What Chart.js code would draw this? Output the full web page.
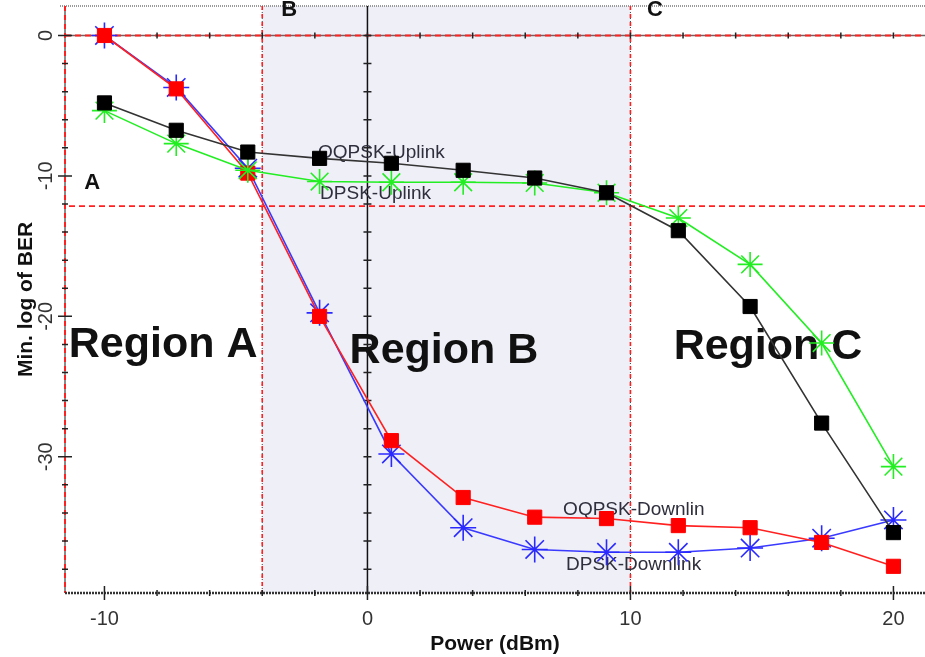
<!DOCTYPE html>
<html>
<head>
<meta charset="utf-8">
<script src="https://cdn.jsdelivr.net/npm/chart.js@4.4.1/dist/chart.umd.min.js"></script>
<style>
  html, body { margin: 0; padding: 0; background: #fff; }
  #wrap { width: 925px; height: 657px; }
</style>
</head>
<body>
<div id="wrap"><canvas id="berChart" width="925" height="657"></canvas></div>
<script>
// ── data ─────────────────────────────────────────────────────────
const power = [-10, -7.27, -4.55, -1.82, 0.91, 3.64, 6.36, 9.09, 11.82, 14.55, 17.27, 20];
const oqpskUplink   = [-4.8, -6.75, -8.3, -8.75, -9.1, -9.6, -10.15, -11.2, -13.9, -19.3, -27.6, -35.4];
const dpskUplink    = [-5.35, -7.7, -9.6, -10.4, -10.45, -10.45, -10.5, -11.2, -13.0, -16.3, -21.9, -30.7];
const oqpskDownlink = [0, -3.8, -9.8, -20.0, -28.85, -32.9, -34.3, -34.4, -34.9, -35.05, -36.1, -37.8];
const dpskDownlink  = [0, -3.7, -9.45, -19.75, -29.8, -35.05, -36.6, -36.8, -36.8, -36.5, -35.8, -34.5];

const regionB = [-4, 10];       // shaded band
const berLimit = -12.15;        // horizontal threshold line
const yTickLabels = [0, -10, -20, -30];
const xTickLabels = [-10, 0, 10, 20];

const RED = '#ff2020';
const FONT = "'Liberation Sans', Arial, sans-serif";

const pts = arr => power.map((x, i) => ({ x, y: arr[i] }));

function series(data, color, lineColor, style, radius) {
  return {
    data: pts(data),
    borderColor: lineColor,
    backgroundColor: color,
    pointBorderColor: color,
    pointBackgroundColor: color,
    pointStyle: style,
    pointRadius: radius,
    pointBorderWidth: style === 'star' ? 1.6 : 1,
    borderWidth: 1.6,
    tension: 0,
    fill: false,
  };
}

function line(ctx, x1, y1, x2, y2, color, width, dash) {
  ctx.save();
  ctx.strokeStyle = color;
  ctx.lineWidth = width;
  ctx.setLineDash(dash || []);
  ctx.beginPath();
  ctx.moveTo(x1, y1);
  ctx.lineTo(x2, y2);
  ctx.stroke();
  ctx.restore();
}

// no extra room for half-labels at the ends of the axes
function fixedBox(s, size) {
  if (s.isHorizontal()) s.height = size; else s.width = size;
  s.paddingTop = s.paddingBottom = s.paddingLeft = s.paddingRight = 0;
}

// ── regions, reference lines, ticks and annotations ──────────────
const decor = {
  id: 'decor',
  beforeDatasetsDraw(chart) {
    const { ctx, chartArea: a, scales: { x, y } } = chart;
    const bx1 = x.getPixelForValue(regionB[0]);
    const bx2 = x.getPixelForValue(regionB[1]);
    const y0 = y.getPixelForValue(0);
    const x0 = x.getPixelForValue(0);
    const yl = y.getPixelForValue(berLimit);

    ctx.save();
    ctx.fillStyle = '#efeff8';
    ctx.fillRect(bx1, a.top, bx2 - bx1, a.bottom - a.top);

    // top border
    line(ctx, a.left - 5, a.top, a.right, a.top, '#999', 2, [1, 1]);

    // left edge and y=0 line: grey with red dashes
    line(ctx, a.left, a.top, a.left, a.bottom, '#666', 1.5);
    line(ctx, a.left, a.top, a.left, a.bottom, RED, 2, [5, 4]);
    line(ctx, a.left, y0, a.right, y0, '#666', 1.5);
    line(ctx, a.left, y0, a.right, y0, RED, 2, [6, 4]);

    // region boundaries
    [bx1, bx2].forEach(px => {
      line(ctx, px, a.top, px, a.bottom, '#444', 1, [1, 2]);
      line(ctx, px, a.top, px, a.bottom, RED, 1.6, [4, 4]);
    });
    line(ctx, a.left + 4, yl, a.right, yl, RED, 1.6, [6, 4]);

    // x=0 axis
    line(ctx, x0, a.top, x0, a.bottom, '#111', 1.5);

    // bottom axis
    line(ctx, a.left, a.bottom, a.right, a.bottom, '#333', 2.5, [2, 1]);

    // ticks every 2 units
    ctx.strokeStyle = '#222';
    ctx.lineWidth = 1.5;
    for (let v = -10; v <= 20; v += 2) {
      const px = x.getPixelForValue(v);
      const major = v % 10 === 0;
      ctx.beginPath();
      ctx.moveTo(px, a.bottom - (major ? 7 : 3));
      ctx.lineTo(px, a.bottom + (major ? 7 : 3));
      ctx.moveTo(px, y0 - 3);
      ctx.lineTo(px, y0 + 3);
      ctx.stroke();
    }
    for (let v = 0; v >= -38; v -= 2) {
      const py = y.getPixelForValue(v);
      const major = v % 10 === 0;
      ctx.beginPath();
      ctx.moveTo(a.left - (major ? 7 : 3), py);
      ctx.lineTo(a.left + (major ? 7 : 3), py);
      ctx.moveTo(x0 - 4, py);
      ctx.lineTo(x0 + 4, py);
      ctx.stroke();
    }

    // annotations
    const txt = (s, vx, vy, font, align) => {
      ctx.font = font;
      ctx.textAlign = align;
      ctx.fillText(s, x.getPixelForValue(vx), y.getPixelForValue(vy));
    };
    ctx.fillStyle = '#111';
    ctx.textBaseline = 'alphabetic';
    txt('Region A', -7.77, -22.9, 'bold 43px ' + FONT, 'center');
    txt('Region B', 2.91, -23.33, 'bold 43px ' + FONT, 'center');
    txt('Region C', 15.23, -23.04, 'bold 43px ' + FONT, 'center');

    ctx.textBaseline = 'middle';
    txt('A', -10.47, -10.5, 'bold 22px ' + FONT, 'center');
    txt('B', -2.98, 1.8, 'bold 22px ' + FONT, 'center');
    txt('C', 10.93, 1.8, 'bold 22px ' + FONT, 'center');

    ctx.fillStyle = '#2e2e3c';
    txt('OQPSK-Uplink', -1.88, -8.37, '19px ' + FONT, 'left');
    txt('DPSK-Uplink', -1.80, -11.29, '19px ' + FONT, 'left');
    txt('OQPSK-Downlin', 7.44, -33.8, '19px ' + FONT, 'left');
    txt('DPSK-Downlink', 7.55, -37.7, '19px ' + FONT, 'left');
    ctx.restore();
  }
};

new Chart(document.getElementById('berChart'), {
  type: 'line',
  data: {
    datasets: [
      series(oqpskUplink, '#000', '#333', 'rect', 10),
      series(dpskUplink, '#22ee22', '#22ee22', 'star', 12.5),
      series(oqpskDownlink, '#ff0000', RED, 'rect', 10),
      series(dpskDownlink, '#2a2aff', '#3a3aff', 'star', 13),
    ]
  },
  options: {
    responsive: false,
    animation: false,
    layout: { autoPadding: false, padding: { top: 6, right: 0, left: 0, bottom: 0 } },
    plugins: { legend: { display: false }, tooltip: { enabled: false } },
    scales: {
      x: {
        type: 'linear',
        min: -11.5,
        max: 21.2,
        grid: { display: false, drawTicks: false },
        border: { display: false },
        afterFit: s => fixedBox(s, 64),
        afterBuildTicks: s => { s.ticks = xTickLabels.map(v => ({ value: v })); },
        ticks: {
          autoSkip: false,
          padding: 14,
          color: '#333',
          font: { family: FONT, size: 20 },
        },
        title: {
          display: true,
          text: 'Power (dBm)',
          color: '#111',
          padding: { top: 0, bottom: 0 },
          font: { family: FONT, size: 21, weight: 'bold' },
        },
      },
      y: {
        type: 'linear',
        min: -39.7,
        max: 2.1,
        grid: { display: false, drawTicks: false },
        border: { display: false },
        afterFit: s => fixedBox(s, 65),
        afterBuildTicks: s => { s.ticks = yTickLabels.map(v => ({ value: v })); },
        ticks: {
          autoSkip: false,
          minRotation: 90,
          maxRotation: 90,
          crossAlign: 'center',
          padding: 4,
          color: '#333',
          font: { family: FONT, size: 20 },
        },
        title: {
          display: true,
          text: 'Min. log of BER',
          color: '#111',
          padding: { top: 14, bottom: 0 },
          font: { family: FONT, size: 21, weight: 'bold' },
        },
      },
    },
  },
  plugins: [decor],
});
</script>
</body>
</html>
